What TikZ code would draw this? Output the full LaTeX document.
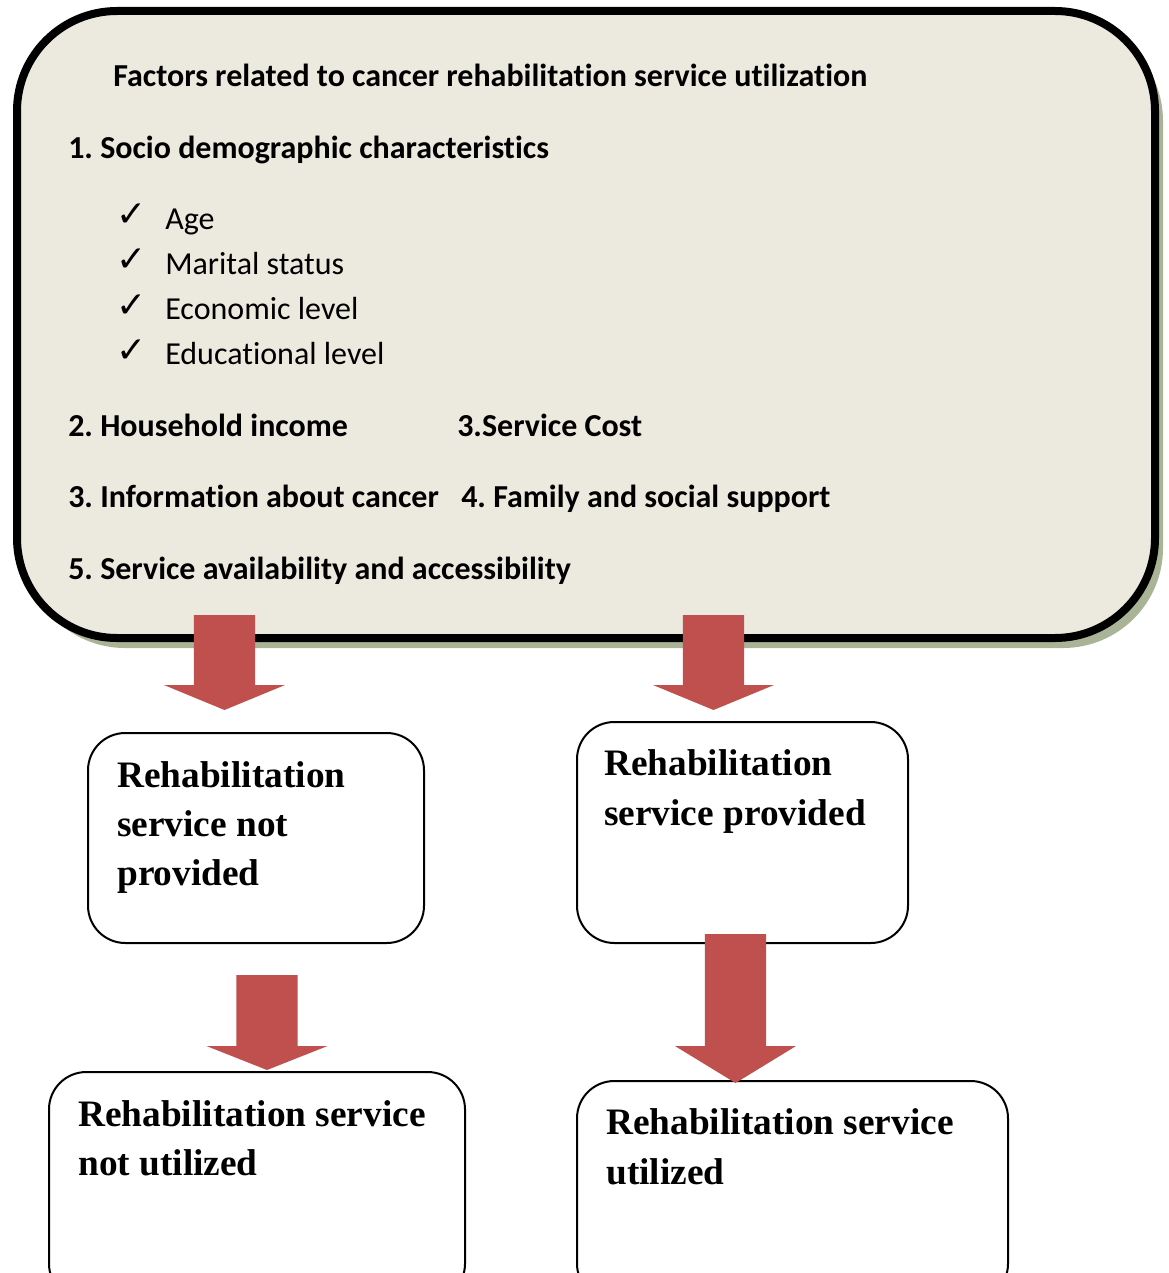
\documentclass[tikz,border=0pt]{standalone}
\usepackage{fontspec}
\setmainfont{Carlito}[Ligatures=CommonOff]
\newfontfamily\tnr{Liberation Serif}
\newfontfamily\dejavu{DejaVu Sans}
\usetikzlibrary{calc,shadows}
\definecolor{boxfill}{HTML}{ECE9DF}
\definecolor{arrowfill}{HTML}{C0504D}
\definecolor{shadowc}{HTML}{A9B497}
\frenchspacing
\tikzset{
  bigbox/.style={draw=black, line width=6pt, fill=boxfill, rounded corners=75pt,
    inner sep=0pt, minimum width=853.5pt, minimum height=470.25pt,
    drop shadow={shadow xshift=6pt, shadow yshift=-7.5pt, fill=shadowc, opacity=1}},
  resbox/.style={draw=black, line width=1.5pt, fill=white, rounded corners=28pt,
    inner sep=0pt, anchor=north west},
  hdr/.style={anchor=base west, inner sep=0pt, font=\fontsize{24}{28}\selectfont\bfseries},
  item/.style={anchor=base west, inner sep=0pt, font=\fontsize{24}{28}\selectfont},
  tick/.style={anchor=base west, inner sep=0pt, font=\dejavu\fontsize{27}{30}\selectfont\bfseries},
  restext/.style={anchor=base west, inner sep=0pt, font=\tnr\fontsize{28}{37}\selectfont\bfseries},
}
\newcommand\blockarrow[3]{%
  \fill[arrowfill] let \p1=(#1), \p2=(#2) in
    (\x1-22.9pt,\y1) -- (\x1+22.9pt,\y1) -- (\x1+22.9pt,\y2+#3) -- (\x1+45.4pt,\y2+#3)
    -- (\x2,\y2) -- (\x1-45.4pt,\y2+#3) -- (\x1-22.9pt,\y2+#3) -- cycle;}
\begin{document}
\begin{tikzpicture}[x=0.75pt,y=-0.75pt]
\useasboundingbox (0,0) rectangle (1168,1273);
\clip (0,0) rectangle (1168,1273);
\fill[white] (0,0) rectangle (1168,1273);

% big factor box
\node[bigbox] (top) at (586,324.5) {};
\node[hdr] (title) at (113,87) {Factors related to cancer rehabilitation service utilization};
\node[hdr] (f1) at (68,159) {1. Socio demographic characteristics};
\node[tick] (c1) at (116,227) {✓};
\node[tick] (c2) at (116,272) {✓};
\node[tick] (c3) at (116,317) {✓};
\node[tick] (c4) at (116,362) {✓};
\node[item] (i1) at (165,229) {Age};
\node[item] (i2) at (165,274) {Marital status};
\node[item] (i3) at (165,319) {Economic level};
\node[item] (i4) at (165,364) {Educational level};
\node[hdr] (f2) at (68,436) {2. Household income};
\node[hdr] (f3b) at (457,436) {3.Service Cost};
\node[hdr] (f3) at (68,507) {3. Information about cancer};
\node[hdr] (f4) at (461,507) {4. Family and social support};
\node[hdr] (f5) at (68,579) {5. Service availability and accessibility};

% outcome boxes
\node[resbox, minimum width=252pt, minimum height=157.5pt] (notprov) at (87,732) {};
\node[resbox, minimum width=248.25pt, minimum height=165.75pt] (prov) at (576,721) {};
\node[resbox, minimum width=312pt, minimum height=171.75pt] (notutil) at (48,1071) {};
\node[resbox, minimum width=323.25pt, minimum height=165pt] (util) at (576,1080) {};

\node[restext] (np1) at (117,787) {Rehabilitation};
\node[restext] (np2) at (117,836) {service not};
\node[restext] (np3) at (117,885) {provided};
\node[restext] (p1) at (604,775) {Rehabilitation};
\node[restext] (p2) at (604,825) {service provided};
\node[restext] (nu1) at (78,1126) {Rehabilitation service};
\node[restext] (nu2) at (78,1175) {not utilized};
\node[restext] (u1) at (606,1134) {Rehabilitation service};
\node[restext] (u2) at (606,1184) {utilized};

% block arrows
\coordinate (a1s) at (224.5,615);  \coordinate (a1t) at (224.5,710);
\coordinate (a2s) at (713.5,615);  \coordinate (a2t) at (713.5,710);
\coordinate (a3s) at (267,975);    \coordinate (a3t) at (267,1070);
\coordinate (a4s) at (735.5,934);  \coordinate (a4t) at (735.5,1083);
\blockarrow{a1s}{a1t}{18.75pt}
\blockarrow{a2s}{a2t}{18.75pt}
\blockarrow{a3s}{a3t}{18pt}
\blockarrow{a4s}{a4t}{27.75pt}
\end{tikzpicture}
\end{document}
